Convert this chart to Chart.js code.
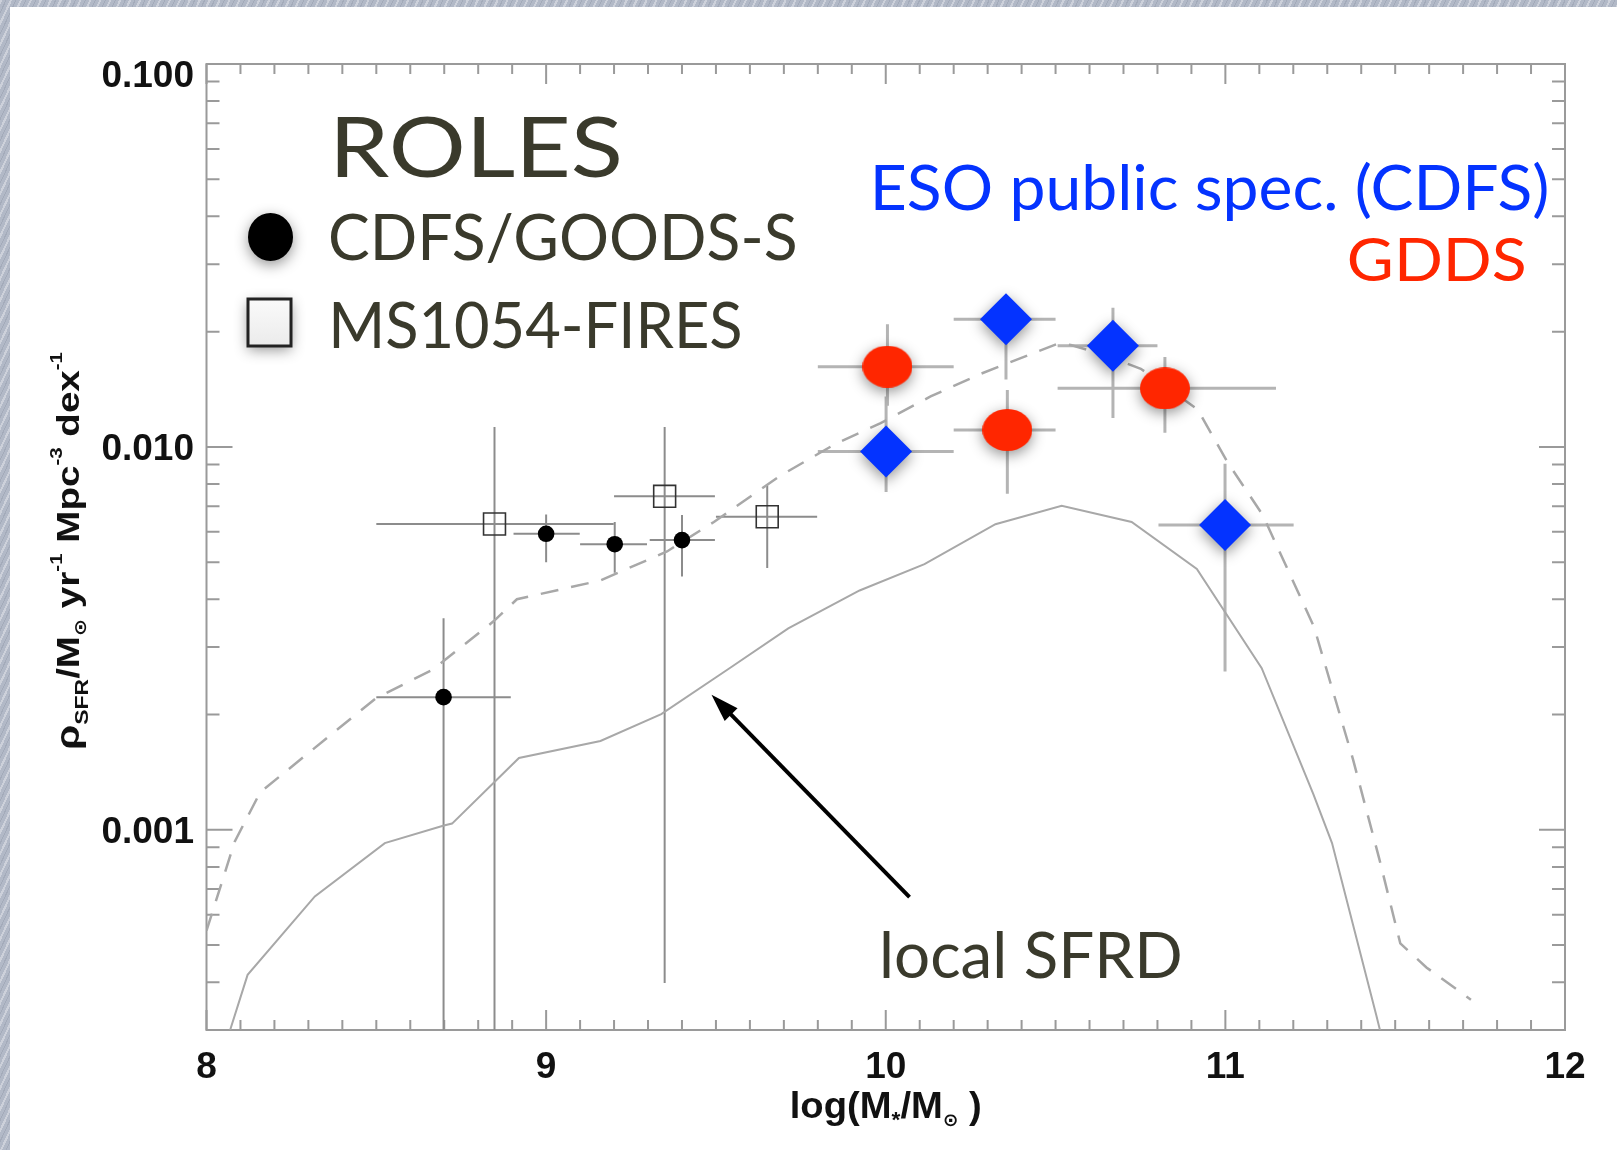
<!DOCTYPE html>
<html>
<head>
<meta charset="utf-8">
<script src="https://cdn.jsdelivr.net/npm/chart.js@4.4.0/dist/chart.umd.min.js"></script>
<style>
html, body { margin: 0; padding: 0; }
body {
  width: 1617px; height: 1150px; overflow: hidden; position: relative;
  background-color: #b2b9c7;
  background-image: repeating-linear-gradient(115deg, rgba(255,255,255,0.35) 0 2px, rgba(255,255,255,0) 2px 5px, rgba(80,90,110,0.15) 5px 6px, rgba(255,255,255,0) 6px 9px);
}
#panel { position: absolute; left: 10px; top: 7px; right: 0; bottom: 0; background: #fff; }
#chart { position: absolute; left: 0; top: 0; }
</style>
</head>
<body>
<div id="panel"></div>
<canvas id="chart" width="1617" height="1150"></canvas>
<script>
// 축 눈금
const xTickLabels = [8, 9, 10, 11, 12];
const yTickValues = [0.001, 0.01, 0.1];
const yTickLabels = ['0.001', '0.010', '0.100'];

// local SFRD (실선)
const localX = [8.06, 8.121, 8.319, 8.525, 8.699, 8.723, 8.920, 9.160, 9.339, 9.540, 9.713, 9.923, 10.114, 10.323, 10.518, 10.724, 10.916, 11.107, 11.259, 11.314, 11.444, 11.46];
const localY = [0.000282, 0.000418, 0.000670, 0.000923, 0.001026, 0.001038, 0.001540, 0.001706, 0.002004, 0.002642, 0.003357, 0.004217, 0.004943, 0.006281, 0.007015, 0.006368, 0.004797, 0.002642, 0.001239, 0.000923, 0.000329, 0.000288];

// 점선
const dashX = [8.000, 8.083, 8.158, 8.497, 8.666, 8.846, 8.914, 9.160, 9.356, 9.494, 9.690, 9.852, 9.985, 10.132, 10.280, 10.506, 10.545, 10.634, 10.751, 10.918, 11.007, 11.110, 11.261, 11.376, 11.453, 11.515, 11.592, 11.723];
const dashY = [0.000545, 0.000931, 0.001253, 0.002200, 0.002620, 0.003508, 0.004000, 0.004480, 0.005333, 0.006368, 0.008414, 0.010186, 0.011535, 0.013545, 0.015524, 0.018601, 0.018450, 0.017498, 0.016000, 0.012531, 0.009099, 0.006637, 0.003388, 0.001525, 0.000841, 0.000505, 0.000437, 0.000360];

// CDFS/GOODS-S
const cdfsX = [8.698, 9.000, 9.202, 9.400];
const cdfsY = [0.00222, 0.00593, 0.00557, 0.00571];
const cdfsXLo = [8.50, 8.904, 9.10, 9.305];
const cdfsXHi = [8.896, 9.099, 9.297, 9.497];
const cdfsYLo = [0.0001, 0.00500, 0.00469, 0.00459];
const cdfsYHi = [0.00357, 0.00666, 0.00637, 0.00664];

// MS1054-FIRES
const firesX = [8.848, 9.349, 9.651];
const firesY = [0.00629, 0.00743, 0.00657];
const firesXLo = [8.50, 9.20, 9.50];
const firesXHi = [9.199, 9.497, 9.798];
const firesYLo = [0.0001, 0.000398, 0.00483];
const firesYHi = [0.01127, 0.01127, 0.00793];

// GDDS
const gddsX = [10.005, 10.358, 10.822];
const gddsY = [0.0162, 0.01107, 0.01422];
const gddsXLo = [9.80, 10.20, 10.506];
const gddsXHi = [10.20, 10.50, 11.149];
const gddsYLo = [0.0128, 0.00755, 0.01089];
const gddsYHi = [0.0209, 0.01409, 0.01718];

// ESO public spec. (CDFS)
const esoX = [10.001, 10.354, 10.669, 10.999];
const esoY = [0.00972, 0.02153, 0.01836, 0.00625];
const esoXLo = [9.80, 10.20, 10.506, 10.803];
const esoXHi = [10.20, 10.50, 10.80, 11.201];
const esoYLo = [0.00762, 0.0150, 0.0119, 0.00259];
const esoYHi = [0.01355, 0.0245, 0.0231, 0.00904];

// 화살표 (local SFRD 주석)
const arrowFrom = [10.07, 0.000667];
const arrowTo = [9.487, 0.002254];

const pts = (xs, ys) => xs.map((v, i) => ({x: v, y: ys[i]}));

const RED = '#ff2600';
const BLUE = '#0433ff';
const TEXT = '#3a3a2c';
const LATO = 'Lato, "Noto Sans", sans-serif';
const HELV = '"Liberation Sans", "DejaVu Sans", sans-serif';

// 타원 마커
const ellipse = document.createElement('canvas');
ellipse.width = 50; ellipse.height = 42;
(() => {
  const c = ellipse.getContext('2d');
  c.fillStyle = RED;
  c.beginPath();
  c.ellipse(25, 21, 25, 21, 0, 0, Math.PI * 2);
  c.fill();
})();

const errorBars = {
  id: 'errorBars',
  beforeDatasetsDraw(chart) {
    const {ctx, chartArea: a, scales: {x, y}} = chart;
    ctx.save();
    ctx.beginPath();
    ctx.rect(a.left, a.top, a.right - a.left, a.bottom - a.top);
    ctx.clip();
    chart.data.datasets.forEach(ds => {
      if (!ds.err) return;
      ctx.strokeStyle = ds.errColor;
      ctx.lineWidth = ds.errWidth;
      ds.data.forEach((p, i) => {
        const px = x.getPixelForValue(p.x), py = y.getPixelForValue(p.y);
        ctx.beginPath();
        ctx.moveTo(x.getPixelForValue(ds.err.xLo[i]), py);
        ctx.lineTo(x.getPixelForValue(ds.err.xHi[i]), py);
        ctx.moveTo(px, y.getPixelForValue(ds.err.yLo[i]));
        ctx.lineTo(px, y.getPixelForValue(ds.err.yHi[i]));
        ctx.stroke();
      });
    });
    ctx.restore();
  }
};

const frame = {
  id: 'frame',
  beforeDatasetsDraw(chart) {
    const {ctx, chartArea: a, scales: {x, y}} = chart;
    ctx.save();
    ctx.strokeStyle = '#9a9a9a';
    ctx.lineWidth = 2;
    ctx.strokeRect(a.left, a.top, a.right - a.left, a.bottom - a.top);
    ctx.beginPath();
    for (let i = 80; i <= 120; i++) {
      const px = x.getPixelForValue(i / 10), len = i % 10 === 0 ? 20 : 10;
      ctx.moveTo(px, a.bottom); ctx.lineTo(px, a.bottom - len);
      ctx.moveTo(px, a.top); ctx.lineTo(px, a.top + len);
    }
    for (let e = -4; e <= -1; e++) {
      for (let m = 1; m <= 9; m++) {
        const v = m * Math.pow(10, e);
        if (v < y.min * 0.999 || v > y.max * 1.001) continue;
        const py = y.getPixelForValue(v), len = m === 1 ? 26 : 13;
        ctx.moveTo(a.left, py); ctx.lineTo(a.left + len, py);
        ctx.moveTo(a.right, py); ctx.lineTo(a.right - len, py);
      }
    }
    ctx.stroke();

    // y 눈금 라벨 (맨 위 라벨은 축 안쪽으로 내림)
    ctx.font = `bold 37px ${HELV}`;
    ctx.fillStyle = '#111';
    ctx.textAlign = 'right';
    ctx.textBaseline = 'alphabetic';
    yTickValues.forEach((v, i) => {
      let cy = y.getPixelForValue(v);
      if (cy < a.top + 10) cy = a.top + 10;
      ctx.fillText(yTickLabels[i], 194, cy + 13);
    });
    ctx.restore();
  }
};

// 그림자 (빨강/파랑 마커)
const shadow = {
  id: 'shadow',
  beforeDatasetDraw(chart, args) {
    if (!chart.data.datasets[args.index].shadow) return;
    const ctx = chart.ctx;
    ctx.save();
    ctx.shadowColor = 'rgba(0,0,0,0.42)';
    ctx.shadowBlur = 14;
    ctx.shadowOffsetY = 4;
  },
  afterDatasetDraw(chart, args) {
    if (chart.data.datasets[args.index].shadow) chart.ctx.restore();
  }
};

function fitText(ctx, text, left, right, baseline, size, color) {
  ctx.save();
  ctx.font = `${size}px ${LATO}`;
  const m = ctx.measureText(text);
  const s = (right - left) / (m.actualBoundingBoxLeft + m.actualBoundingBoxRight);
  ctx.translate(left + m.actualBoundingBoxLeft * s, baseline);
  ctx.scale(s, 1);
  ctx.fillStyle = color;
  ctx.fillText(text, 0, 0);
  ctx.restore();
}

function richText(ctx, segs, cx, baseline, totalW) {
  let w = 0;
  segs.forEach(s => {
    ctx.font = `bold ${s.size}px ${HELV}`;
    s.w = ctx.measureText(s.t).width;
    w += s.w;
  });
  ctx.save();
  ctx.translate(cx - totalW / 2, baseline);
  ctx.scale(totalW / w, 1);
  ctx.fillStyle = '#111';
  let x = 0;
  segs.forEach(s => {
    ctx.font = `bold ${s.size}px ${HELV}`;
    ctx.fillText(s.t, x, s.dy || 0);
    x += s.w;
  });
  ctx.restore();
}

const overlay = {
  id: 'overlay',
  afterDraw(chart) {
    const {ctx, scales: {x, y}, chartArea: a} = chart;

    // 축 제목
    richText(ctx, [
      {t: 'log(M', size: 37}, {t: '*', size: 22, dy: 9}, {t: '/M', size: 37},
      {t: '\u2299', size: 18, dy: 8}, {t: ' )', size: 37}
    ], (a.left + a.right) / 2, 1118, 192);
    ctx.save();
    ctx.translate(79, 551);
    ctx.rotate(-Math.PI / 2);
    richText(ctx, [
      {t: '\u03c1', size: 34}, {t: 'SFR', size: 19, dy: 9}, {t: '/M', size: 32},
      {t: '\u2299', size: 17, dy: 7}, {t: ' yr', size: 32}, {t: '-1', size: 17, dy: -17},
      {t: ' Mpc', size: 32}, {t: '-3', size: 17, dy: -17}, {t: ' dex', size: 32},
      {t: '-1', size: 17, dy: -17}
    ], 0, 0, 398);
    ctx.restore();

    // 범례 마커
    ctx.save();
    ctx.shadowColor = 'rgba(0,0,0,0.42)';
    ctx.shadowBlur = 14;
    ctx.shadowOffsetY = 4;
    ctx.fillStyle = '#000';
    ctx.beginPath();
    ctx.ellipse(270.5, 237, 22.5, 24, 0, 0, Math.PI * 2);
    ctx.fill();
    const g = ctx.createLinearGradient(0, 299, 0, 346);
    g.addColorStop(0, '#fafafa');
    g.addColorStop(1, '#ebebeb');
    ctx.fillStyle = g;
    ctx.fillRect(248, 299, 43, 47);
    ctx.restore();
    ctx.save();
    ctx.strokeStyle = '#222';
    ctx.lineWidth = 3;
    ctx.strokeRect(248, 299, 43, 47);
    ctx.restore();

    // 텍스트
    fitText(ctx, 'ROLES', 337, 619, 177, 84, TEXT);
    fitText(ctx, 'CDFS/GOODS-S', 331, 795, 260, 64, TEXT);
    fitText(ctx, 'MS1054-FIRES', 333, 740, 348, 64, TEXT);
    fitText(ctx, 'ESO public spec. (CDFS)', 875, 1547, 210, 61, BLUE);
    fitText(ctx, 'GDDS', 1349, 1524, 281, 60, RED);
    fitText(ctx, 'local SFRD', 883, 1180, 978, 64, TEXT);

    // 화살표
    const x0 = x.getPixelForValue(arrowFrom[0]), y0 = y.getPixelForValue(arrowFrom[1]);
    const x1 = x.getPixelForValue(arrowTo[0]), y1 = y.getPixelForValue(arrowTo[1]);
    const ang = Math.atan2(y1 - y0, x1 - x0);
    const hl = 28, hw = 9;
    ctx.save();
    ctx.strokeStyle = '#000';
    ctx.fillStyle = '#000';
    ctx.lineWidth = 4;
    ctx.beginPath();
    ctx.moveTo(x0, y0);
    ctx.lineTo(x1 - Math.cos(ang) * hl * 0.8, y1 - Math.sin(ang) * hl * 0.8);
    ctx.stroke();
    ctx.beginPath();
    ctx.moveTo(x1, y1);
    ctx.lineTo(x1 - Math.cos(ang) * hl - Math.sin(ang) * hw, y1 - Math.sin(ang) * hl + Math.cos(ang) * hw);
    ctx.lineTo(x1 - Math.cos(ang) * hl + Math.sin(ang) * hw, y1 - Math.sin(ang) * hl - Math.cos(ang) * hw);
    ctx.closePath();
    ctx.fill();
    ctx.restore();
  }
};

const tickFont = {family: HELV, weight: 'bold', size: 37};

new Chart(document.querySelector('#chart'), {
  type: 'scatter',
  data: {
    datasets: [
      {
        label: 'ESO public spec. (CDFS)',
        data: pts(esoX, esoY),
        pointStyle: 'rectRot', pointRadius: 26,
        backgroundColor: BLUE, borderWidth: 0,
        shadow: true,
        err: {xLo: esoXLo, xHi: esoXHi, yLo: esoYLo, yHi: esoYHi},
        errColor: '#b4b4b4', errWidth: 3
      },
      {
        label: 'GDDS',
        data: pts(gddsX, gddsY),
        pointStyle: ellipse,
        shadow: true,
        err: {xLo: gddsXLo, xHi: gddsXHi, yLo: gddsYLo, yHi: gddsYHi},
        errColor: '#b4b4b4', errWidth: 3
      },
      {
        label: 'CDFS/GOODS-S',
        data: pts(cdfsX, cdfsY),
        pointStyle: 'circle', pointRadius: 8.3,
        backgroundColor: '#000', borderWidth: 0,
        err: {xLo: cdfsXLo, xHi: cdfsXHi, yLo: cdfsYLo, yHi: cdfsYHi},
        errColor: '#8c8c8c', errWidth: 2
      },
      {
        label: 'MS1054-FIRES',
        data: pts(firesX, firesY),
        pointStyle: 'rect', pointRadius: 15.5,
        backgroundColor: 'rgba(0,0,0,0)', borderColor: '#333', borderWidth: 1.6,
        err: {xLo: firesXLo, xHi: firesXHi, yLo: firesYLo, yHi: firesYHi},
        errColor: '#8c8c8c', errWidth: 2
      },
      {
        label: 'dashed',
        data: pts(dashX, dashY),
        showLine: true, pointRadius: 0,
        borderColor: '#a8a8a8', borderWidth: 2.5, borderDash: [18, 13]
      },
      {
        label: 'local SFRD',
        data: pts(localX, localY),
        showLine: true, pointRadius: 0,
        borderColor: '#a8a8a8', borderWidth: 2
      }
    ]
  },
  options: {
    responsive: false,
    animation: false,
    events: [],
    layout: {padding: {left: 0, right: 52, top: 64, bottom: 0}},
    plugins: {legend: {display: false}, tooltip: {enabled: false}},
    scales: {
      x: {
        type: 'linear', min: 8, max: 12,
        grid: {display: false, drawTicks: false},
        border: {display: false},
        afterBuildTicks: s => { s.ticks = xTickLabels.map(v => ({value: v})); },
        afterFit: s => { s.height = 120; },
        ticks: {padding: 16, font: tickFont, color: '#111', maxRotation: 0, autoSkip: false, callback: v => String(v)}
      },
      y: {
        type: 'logarithmic', min: Math.pow(10, -3.5), max: 0.1,
        grid: {display: false, drawTicks: false},
        border: {display: false},
        afterBuildTicks: s => { s.ticks = yTickValues.map(v => ({value: v})); },
        afterFit: s => { s.width = 206.5; },
        ticks: {display: false}
      }
    }
  },
  plugins: [frame, errorBars, shadow, overlay]
});
</script>
</body>
</html>
